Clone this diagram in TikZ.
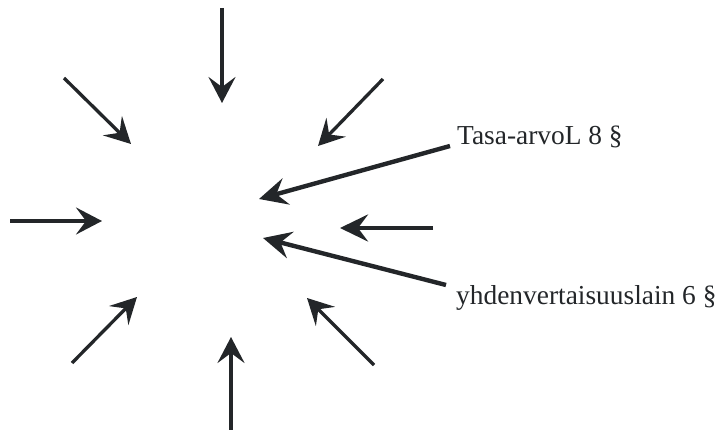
\documentclass[tikz,border=0pt]{standalone}
\usepackage{fontspec}
\setmainfont{Liberation Serif}
\usetikzlibrary{arrows.meta}
\definecolor{ink}{RGB}{35,38,41}
\tikzset{
  thinarrow/.style={draw=ink, line width=3.3pt, -{Stealth[length=26pt,width=27pt,inset=10pt]}},
  thickarrow/.style={draw=ink, line width=4.4pt, -{Stealth[length=28pt,width=27pt,inset=10pt]}},
  lawlabel/.style={anchor=base west, inner sep=0pt, font=\fontsize{27.4}{31}\selectfont, text=ink}
}
\begin{document}
\begin{tikzpicture}[x=1pt,y=-1pt]
\useasboundingbox (0,0) rectangle (724,430);
% coordinates
\coordinate (nS) at (222,8);   \coordinate (nE) at (222,103);
\coordinate (nwS) at (64,78);  \coordinate (nwE) at (131,144);
\coordinate (neS) at (383,79); \coordinate (neE) at (318,146);
\coordinate (tS) at (450,146); \coordinate (tE) at (259,199);
\coordinate (wS) at (10,221);  \coordinate (wE) at (102,221);
\coordinate (eS) at (433,228); \coordinate (eE) at (340,228);
\coordinate (yS) at (446,285); \coordinate (yE) at (263,238);
\coordinate (swS) at (72,363); \coordinate (swE) at (137,297);
\coordinate (sS) at (231,430); \coordinate (sE) at (231,337);
\coordinate (seS) at (374,365); \coordinate (seE) at (307,298);
% labels
\node[lawlabel] (tasa) at (457,145) {Tasa-arvoL 8 §};
\node[lawlabel] (yhden) at (456,305) {yhdenvertaisuuslain 6 §};
% arrows
\draw[thinarrow] (nS) -- (nE);
\draw[thinarrow] (nwS) -- (nwE);
\draw[thinarrow] (neS) -- (neE);
\draw[thickarrow] (tS) -- (tE);
\draw[thinarrow] (wS) -- (wE);
\draw[thickarrow] (eS) -- (eE);
\draw[thickarrow] (yS) -- (yE);
\draw[thinarrow] (swS) -- (swE);
\draw[thinarrow] (sS) -- (sE);
\draw[thinarrow] (seS) -- (seE);
\end{tikzpicture}
\end{document}
